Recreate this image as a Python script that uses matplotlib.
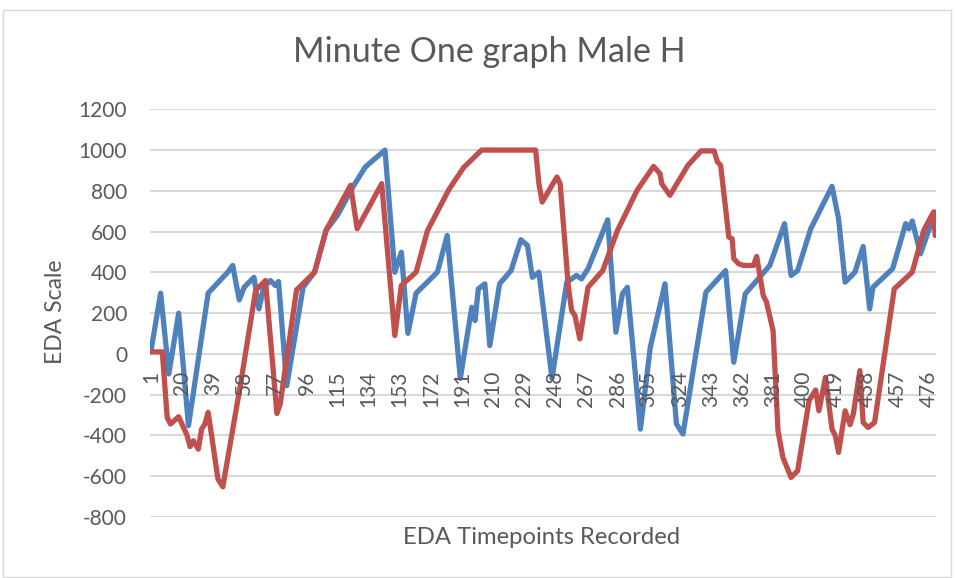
import matplotlib
matplotlib.use("Agg")
import matplotlib.pyplot as plt
from matplotlib.patches import Rectangle

# EDA readings: (timepoint, value) vertices of each trace
blue_t = [1, 7, 12, 18, 24, 36, 48, 51, 55, 58, 64, 67, 70, 74, 77, 79, 84, 94,
          101, 108, 115, 125, 132, 144, 150, 154, 158, 163, 176, 182, 190, 197,
          199, 201, 205, 208, 214, 221, 227, 231, 234, 238, 246, 255, 261, 264,
          268, 280, 285, 289, 292, 300, 306, 315, 322, 326, 334, 340, 352, 357,
          364, 379, 388, 392, 396, 404, 417, 421, 425, 431, 436, 440, 442, 454,
          462, 464, 466, 471, 480]
blue_v = [10, 298, -98, 200, -352, 298, 401, 434, 265, 327, 376, 221, 327, 360,
          336, 355, -156, 327, 401, 606, 680, 827, 917, 1000, 401, 499, 101, 298,
          401, 581, -120, 229, 164, 319, 344, 41, 344, 409, 560, 532, 376, 401,
          -120, 352, 385, 368, 418, 658, 106, 295, 327, -369, 32, 344, -344,
          -393, 8, 303, 409, -41, 295, 434, 639, 385, 409, 614, 822, 663, 352,
          401, 527, 221, 327, 418, 639, 614, 652, 491, 696]

red_t = [1, 8, 11, 13, 18, 23, 25, 27, 30, 32, 34, 36, 38, 42, 45, 47, 56, 65,
         71, 78, 80, 90, 101, 108, 123, 127, 142, 150, 154, 163, 170, 183, 192,
         203, 236, 238, 240, 249, 251, 256, 258, 260, 263, 268, 277, 286, 298,
         308, 312, 313, 318, 329, 337, 345, 347, 349, 354, 356, 357, 360, 363,
         369, 371, 375, 377, 381, 384, 387, 392, 396, 403, 407, 409, 413, 417,
         419, 421, 425, 428, 430, 434, 436, 439, 443, 455, 466, 473, 479, 480]
red_v = [10, 10, -311, -344, -308, -397, -455, -426, -467, -369, -344, -287,
         -393, -614, -652, -557, -139, 311, 360, -292, -246, 314, 401, 606, 827,
         614, 835, 90, 336, 401, 606, 806, 914, 1000, 1000, 835, 745, 868, 835,
         327, 213, 188, 74, 327, 409, 606, 803, 920, 884, 835, 778, 925, 996,
         996, 942, 925, 573, 565, 467, 442, 434, 434, 478, 286, 254, 114, -377,
         -508, -606, -573, -229, -177, -279, -115, -369, -401, -483, -279, -347,
         -295, -82, -336, -361, -336, 319, 401, 606, 696, 581]

x_ticks = list(range(1, 481, 19))
y_ticks = list(range(-800, 1201, 200))

FONT = ["Lato", "DejaVu Sans"]
TXT = "#595959"

fig = plt.figure(figsize=(9.55, 5.78), dpi=100)
fig.patches.append(Rectangle((3 / 955, 1 - 577 / 578), 948 / 955, 567 / 578,
                             transform=fig.transFigure, fill=False,
                             edgecolor="#D9D9D9", linewidth=1.0))

ax = fig.add_axes([150 / 955, 1 - 517 / 578, 786 / 955, (517 - 109.3) / 578])
ax.set_xlim(0.5, 480.5)
ax.set_ylim(-800, 1200)
for s in ax.spines.values():
    s.set_visible(False)
ax.set_yticks(y_ticks)
ax.set_yticklabels([str(v) for v in y_ticks], fontfamily=FONT, fontsize=15,
                   color=TXT)
ax.tick_params(axis="y", length=0, pad=16.5)
ax.set_xticks([])
ax.grid(axis="y", color="#D9D9D9", linewidth=1.5)
ax.set_axisbelow(True)

ax.plot(blue_t, blue_v, color="#4F81BD", linewidth=3.8, solid_joinstyle="round",
        solid_capstyle="round", zorder=3)
ax.plot(red_t, red_v, color="#C0504D", linewidth=3.8, solid_joinstyle="round",
        solid_capstyle="round", zorder=4)

# category labels sit just under the zero line
for t in x_ticks:
    ax.annotate(str(t), xy=(t, 0), xytext=(0, -12), textcoords="offset points",
                rotation=90, ha="center", va="top", fontsize=15,
                fontfamily=FONT, color=TXT, zorder=5)

fig.text(489 / 955, 1 - 52 / 578, "Minute One graph Male H", ha="center",
         va="center", fontsize=24.5, fontfamily=FONT, color=TXT)
fig.text(55 / 955, 1 - 312 / 578, "EDA Scale", ha="center", va="center",
         rotation=90, fontsize=16.5, fontfamily=FONT, color=TXT)
fig.text(542 / 955, 1 - 538 / 578, "EDA Timepoints Recorded", ha="center",
         va="center", fontsize=17.2, fontfamily=FONT, color=TXT)

fig.savefig("out.png", dpi=100)
